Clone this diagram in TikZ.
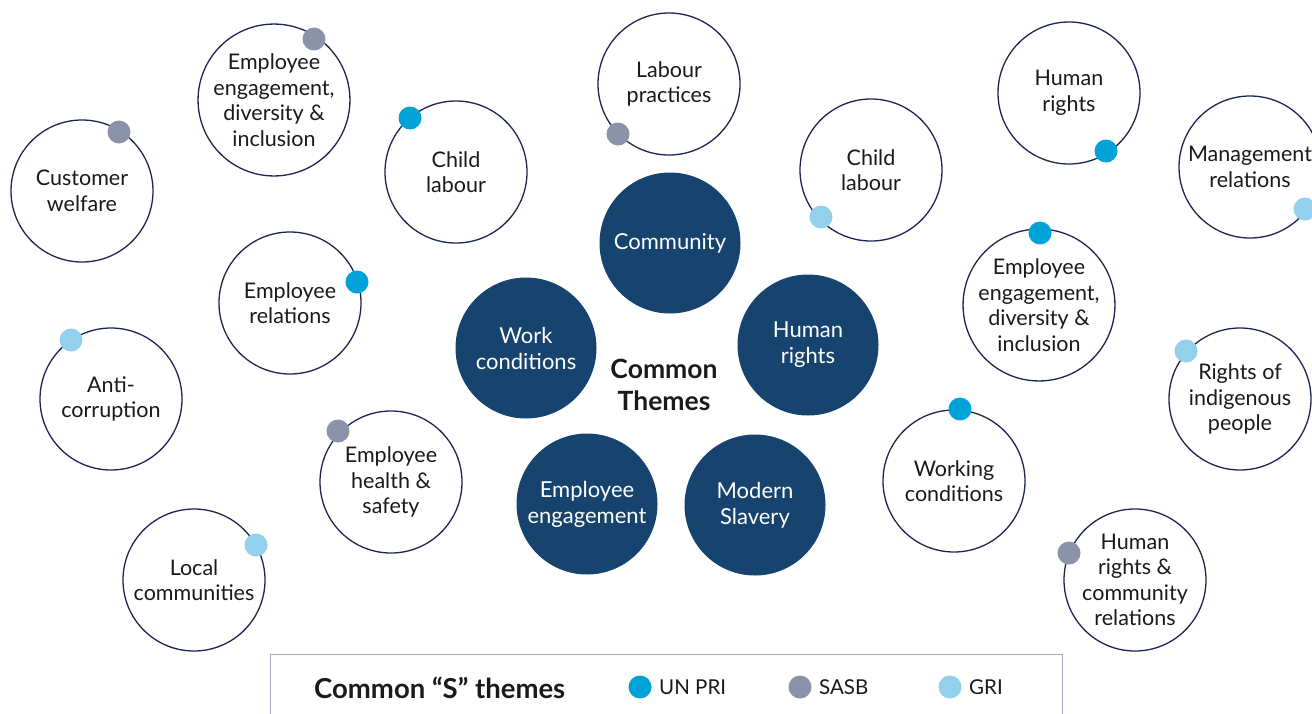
\documentclass[tikz,border=0pt]{standalone}
\usepackage{fontspec}
\setmainfont{Lato}
\definecolor{navy}{HTML}{16446F}
\definecolor{ring}{HTML}{1C2552}
\definecolor{unpri}{HTML}{00A2D8}
\definecolor{sasb}{HTML}{8A93AA}
\definecolor{gri}{HTML}{93D0EC}
\definecolor{txt}{HTML}{1A1A1A}
\tikzset{
  outer/.style={circle, draw=ring, line width=1.3pt, fill=white, minimum size=142pt, inner sep=0pt, align=center, font=\fontsize{21.5}{25.5}\selectfont, text=txt},
  theme/.style={circle, fill=navy, minimum size=141pt, inner sep=0pt, align=center, font=\fontsize{22}{26}\selectfont, text=white},
  dotb/.style={circle, fill=unpri, minimum size=23pt, inner sep=0pt},
  dotg/.style={circle, fill=sasb, minimum size=23pt, inner sep=0pt},
  dotl/.style={circle, fill=gri, minimum size=23pt, inner sep=0pt},
  legtext/.style={anchor=west, font=\fontsize{20.5}{22}\selectfont, text=txt, inner sep=0pt}
}
\begin{document}
\begin{tikzpicture}[x=1pt,y=-1pt]
\useasboundingbox (0,0) rectangle (1312,713);
% outer circles
\node[outer] (cw) at (82,191) {Customer\\welfare};
\node[outer] (eedl) at (274,100) {Employee\\engagement,\\diversity \&\\inclusion};
\node[outer] (cll) at (456,172) {Child\\labour};
\node[outer] (lp) at (669,84) {Labour\\practices};
\node[outer] (clr) at (871,170) {Child\\labour};
\node[outer] (hrt) at (1069,93) {Human\\rights};
\node[outer] (mr) at (1250,167) {Management\\relations};
\node[outer] (er) at (290,303) {Employee\\relations};
\node[outer] (eedr) at (1039,305) {Employee\\engagement,\\diversity \&\\inclusion};
\node[outer] (ac) at (111,399) {Anti-\\corruption};
\node[outer] (rip) at (1240,399) {Rights of\\indigenous\\people};
\node[outer] (ehs) at (391,482) {Employee\\health \&\\safety};
\node[outer] (wc) at (954,481) {Working\\conditions};
\node[outer] (lc) at (194,580) {Local\\communities};
\node[outer] (hrcr) at (1135,580) {Human\\rights \&\\community\\relations};
% dots
\node[dotg] (d1) at (119,132) {};
\node[dotg] (d2) at (314,39) {};
\node[dotb] (d3) at (410,118) {};
\node[dotg] (d4) at (618,134) {};
\node[dotl] (d5) at (821,217) {};
\node[dotb] (d6) at (1106,151) {};
\node[dotl] (d7) at (1305,209) {};
\node[dotb] (d8) at (357,282) {};
\node[dotb] (d9) at (1040,233) {};
\node[dotl] (d10) at (71,340) {};
\node[dotl] (d11) at (1186,351) {};
\node[dotg] (d12) at (338,431) {};
\node[dotb] (d13) at (960,409) {};
\node[dotl] (d14) at (256,545) {};
\node[dotg] (d15) at (1069,553) {};
% theme circles
\node[theme] (tc) at (670,243) {Community};
\node[theme] (twc) at (526,348) {Work\\conditions};
\node[theme] (thr) at (808,345) {Human\\rights};
\node[theme] (tee) at (587,504) {Employee\\engagement};
\node[theme] (tms) at (755,505) {Modern\\Slavery};
\node[align=center, font=\fontsize{26.5}{32}\selectfont\bfseries, text=txt] (ct) at (664,385) {Common\\Themes};
% legend
\node[draw=sasb!80, line width=1pt, minimum width=792pt, minimum height=70pt, inner sep=0pt] (leg) at (666,689) {};
\node[anchor=west, font=\fontsize{27.5}{30}\selectfont\bfseries, text=txt, inner sep=0pt] (lt) at (314,688) {Common “S” themes};
\node[dotb] (l1) at (640,687) {};
\node[legtext] (l1t) at (659,687) {UN PRI};
\node[dotg] (l2) at (800,687) {};
\node[legtext] (l2t) at (819,687) {SASB};
\node[dotl] (l3) at (950,687) {};
\node[legtext] (l3t) at (969,687) {GRI};
\end{tikzpicture}
\end{document}
